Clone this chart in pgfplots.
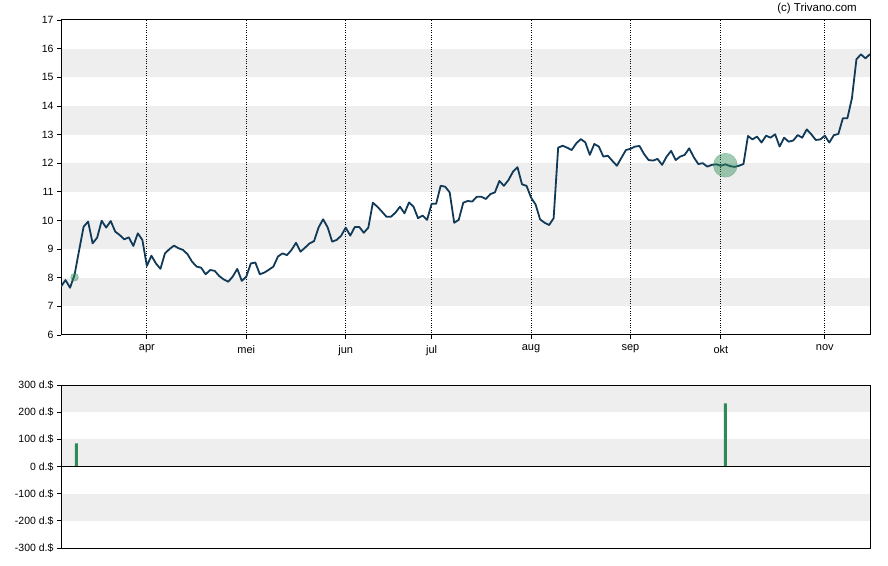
\documentclass[border=0pt]{standalone}
\usepackage{fontspec}
\setmainfont{Liberation Sans}
\usepackage{pgfplots}
\pgfplotsset{compat=1.18}

\definecolor{pricecol}{RGB}{16,58,88}
\definecolor{bandgray}{RGB}{238,238,238}
\definecolor{volgreen}{RGB}{46,139,87}

% x = trading day, 0 = 1 april
\pgfplotsset{
  trivano/.style={
    scale only axis, width=809pt, xmin=-19, xmax=160,
    set layers,
    tick align=outside, major tick length=4pt,
    tick style={black, line width=0.8pt},
    axis line style={black, line width=1pt},
    ticklabel style={font=\fontsize{10.5}{12}\selectfont},
    /pgf/number format/assume math mode=true,
    ytick pos=left,
  }
}

\begin{document}
\begin{tikzpicture}
\path (0pt,0pt) rectangle (888pt,565pt);
\node[anchor=north east, inner sep=0, font=\fontsize{11.5}{13}\selectfont] at (857pt,562pt) {(c) Trivano.com};

% koers
\begin{axis}[trivano,
  at={(61pt,230pt)}, anchor=south west, height=315pt,
  ymin=6, ymax=17, ytick={6,...,17},
  yticklabel={\pgfmathprintnumber{\tick}},
  xtick={0,22,44,63,85,107,127,150},
  xticklabels={apr,mei,jun,jul,aug,sep,okt,nov},
  xticklabel style={yshift=-2.5pt, font=\fontsize{11}{12}\selectfont},
  xtick pos=lower,
  xmajorgrids, grid style={black, dotted, line width=0.9pt},
]
\begin{pgfonlayer}{axis background}
\fill[bandgray] (axis cs:-19,7) rectangle (axis cs:160,8);
\fill[bandgray] (axis cs:-19,9) rectangle (axis cs:160,10);
\fill[bandgray] (axis cs:-19,11) rectangle (axis cs:160,12);
\fill[bandgray] (axis cs:-19,13) rectangle (axis cs:160,14);
\fill[bandgray] (axis cs:-19,15) rectangle (axis cs:160,16);
\end{pgfonlayer}

\addplot[only marks, mark=*, mark size=4pt,
  mark options={fill=volgreen, fill opacity=0.45, draw=volgreen, draw opacity=0.4}]
  coordinates {(-16,8.02)};
\addplot[only marks, mark=*, mark size=12pt,
  mark options={fill=volgreen, fill opacity=0.45, draw=volgreen, draw opacity=0.4}]
  coordinates {(128,11.93)};

\addplot[pricecol, line width=1.8pt, line join=round] coordinates {
(-19,7.69) (-18,7.92) (-17,7.65) (-16,8.10) (-15,8.95) (-14,9.78) (-13,9.96)
(-12,9.20) (-11,9.40) (-10,9.99) (-9,9.75) (-8,9.98) (-7,9.61) (-6,9.49)
(-5,9.34) (-4,9.41) (-3,9.11) (-2,9.55) (-1,9.32)
(0,8.41) (1,8.77) (2,8.50) (3,8.31) (4,8.85) (5,9.00) (6,9.12) (7,9.03)
(8,8.97) (9,8.82) (10,8.56) (11,8.39) (12,8.35) (13,8.12) (14,8.27) (15,8.24)
(16,8.06) (17,7.94) (18,7.86) (19,8.04) (20,8.31) (21,7.89)
(22,8.04) (23,8.50) (24,8.53) (25,8.12) (26,8.18) (27,8.28) (28,8.39)
(29,8.74) (30,8.85) (31,8.79) (32,8.97) (33,9.22) (34,8.91) (35,9.05)
(36,9.20) (37,9.28) (38,9.76) (39,10.04) (40,9.76) (41,9.26) (42,9.32) (43,9.47)
(44,9.75) (45,9.47) (46,9.77) (47,9.77) (48,9.57) (49,9.75) (50,10.62)
(51,10.48) (52,10.31) (53,10.13) (54,10.13) (55,10.27) (56,10.48) (57,10.25)
(58,10.63) (59,10.48) (60,10.08) (61,10.17) (62,10.02)
(63,10.58) (64,10.58) (65,11.21) (66,11.18) (67,10.98) (68,9.92) (69,10.02)
(70,10.62) (71,10.68) (72,10.66) (73,10.83) (74,10.83) (75,10.75) (76,10.92)
(77,10.98) (78,11.38) (79,11.21) (80,11.41) (81,11.70) (82,11.86) (83,11.26)
(84,11.21)
(85,10.80) (86,10.56) (87,10.04) (88,9.92) (89,9.84) (90,10.08) (91,12.54)
(92,12.61) (93,12.54) (94,12.46) (95,12.69) (96,12.84) (97,12.73) (98,12.29)
(99,12.67) (100,12.58) (101,12.23) (102,12.26) (103,12.08) (104,11.91)
(105,12.19) (106,12.46)
(107,12.50) (108,12.58) (109,12.60) (110,12.32) (111,12.11) (112,12.09)
(113,12.15) (114,11.94) (115,12.23) (116,12.43) (117,12.11) (118,12.23)
(119,12.29) (120,12.52) (121,12.21) (122,11.97) (123,12.00) (124,11.88)
(125,11.94) (126,11.96)
(127,11.91) (128,11.96) (129,11.90) (130,11.87) (131,11.91) (132,11.97)
(133,12.95) (134,12.83) (135,12.93) (136,12.72) (137,12.96) (138,12.89)
(139,13.01) (140,12.58) (141,12.89) (142,12.75) (143,12.79) (144,12.98)
(145,12.89) (146,13.18) (147,13.01) (148,12.81) (149,12.83)
(150,12.96) (151,12.72) (152,12.98) (153,13.02) (154,13.57) (155,13.57)
(156,14.27) (157,15.63) (158,15.80) (159,15.66) (160,15.81)
};
\end{axis}

% handel insiders
\begin{axis}[trivano,
  at={(61pt,17pt)}, anchor=south west, height=163pt,
  ymin=-300, ymax=300, ytick={-300,-200,...,300},
  yticklabel={\pgfmathprintnumber{\tick} d.\$},
  xtick=\empty,
]
\begin{pgfonlayer}{axis background}
\fill[bandgray] (axis cs:-19,200) rectangle (axis cs:160,300);
\fill[bandgray] (axis cs:-19,0) rectangle (axis cs:160,100);
\fill[bandgray] (axis cs:-19,-200) rectangle (axis cs:160,-100);
\end{pgfonlayer}
\addplot[ybar, bar width=2.8pt, fill=volgreen, draw=none] coordinates {(-15.6,85) (128,232)};
\draw[black, line width=1pt] (axis cs:-19,0) -- (axis cs:160,0);
\end{axis}
\end{tikzpicture}
\end{document}
